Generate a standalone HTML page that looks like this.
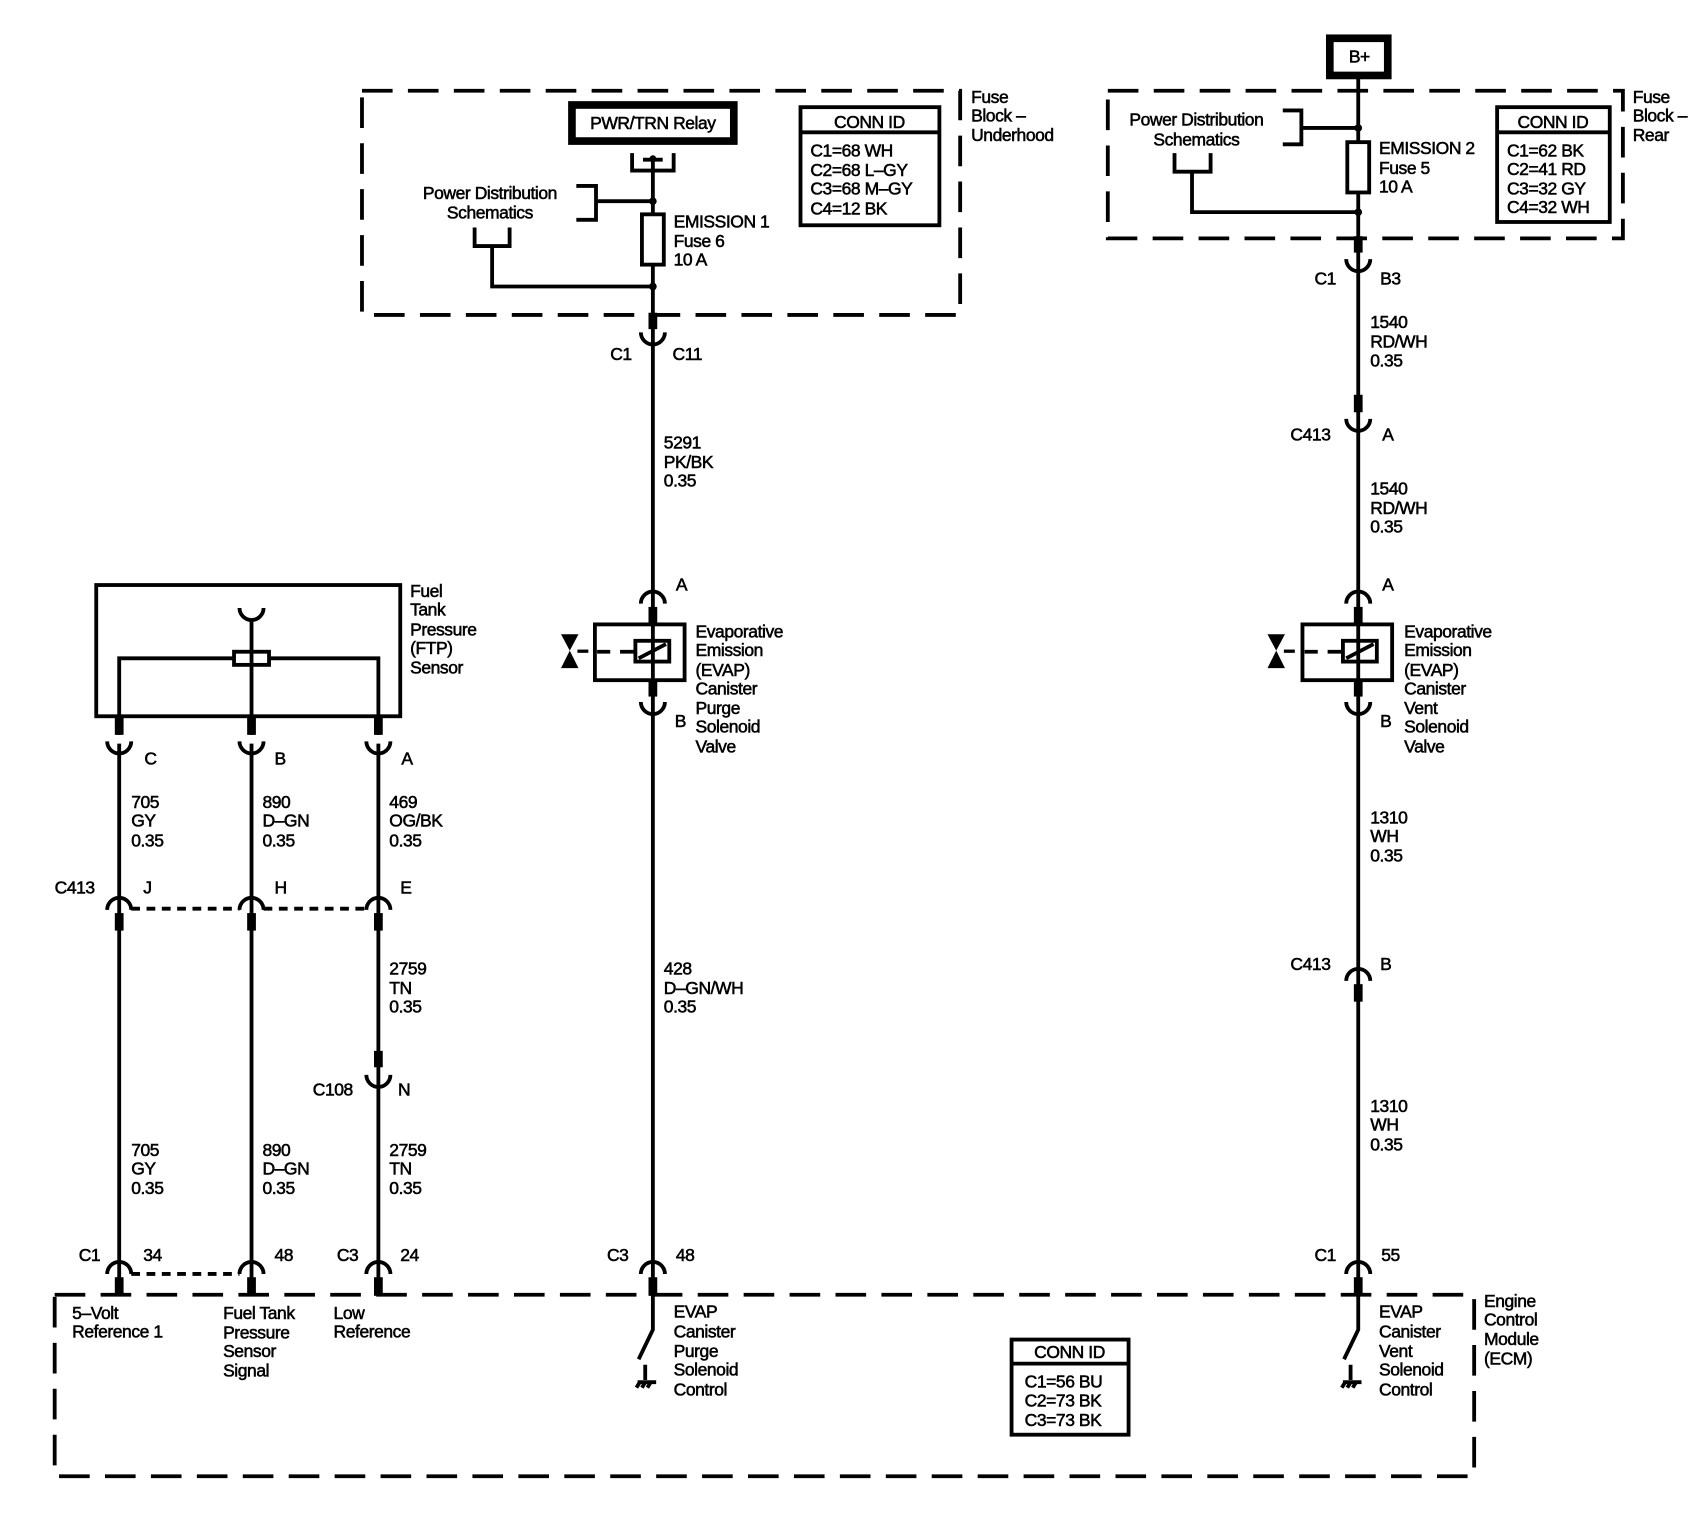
<!DOCTYPE html>
<html><head><meta charset="utf-8"><style>
html,body{margin:0;padding:0;background:#fff;}
svg{display:block;}
text{font-family:"Liberation Sans",sans-serif;font-size:16px;fill:#000;stroke:#000;stroke-width:0.5;letter-spacing:-0.4px;}
</style></head><body>
<svg width="1706" height="1520" viewBox="0 0 1560 1390" preserveAspectRatio="none" xmlns="http://www.w3.org/2000/svg">
<g fill="none" stroke="#000" stroke-width="3.5">
<rect x="331" y="83" width="547" height="205" stroke-dasharray="28,14"/>
<rect x="1013" y="83" width="471" height="135" stroke-dasharray="28,14"/>
<rect x="50" y="1184" width="1298" height="166" stroke-dasharray="28,14"/>
<rect x="523" y="96" width="148" height="33" stroke-width="7"/>
<path d="M578 140 V156 H616 V140 M588 146 H606"/>
<line x1="597" y1="145" x2="597" y2="1184"/>
<rect x="587" y="196" width="20" height="46" fill="#fff"/>
<path d="M527 170 H545 V201 H527 M545 184 H597"/>
<path d="M434 208 V225 H466 V208 M450 225 V262 H597"/>
<rect x="732" y="98" width="127" height="108" stroke-width="3.5"/>
<line x1="732" y1="121" x2="859" y2="121"/>
<rect x="1216" y="35" width="53" height="34" stroke-width="7"/>
<line x1="1242" y1="72" x2="1242" y2="1184"/>
<rect x="1232" y="130" width="20" height="46" fill="#fff"/>
<path d="M1173 101 H1190 V132 H1173 M1190 117 H1242"/>
<path d="M1074 140 V157 H1107 V140 M1090 157 V194 H1242"/>
<rect x="1369" y="98" width="103" height="105"/>
<line x1="1369" y1="121" x2="1472" y2="121"/>
<rect x="88" y="535" width="278" height="120"/>
<path d="M109 672 V602 H214 M246 602 H346 V672"/>
<rect x="214" y="596" width="32" height="12" fill="#fff"/>
<line x1="230" y1="566" x2="230" y2="672"/>
<path d="M219 556 A11 11 0 0 0 241 556"/>
<line x1="109" y1="680" x2="109" y2="1184"/>
<line x1="230" y1="680" x2="230" y2="1184"/>
<line x1="346" y1="680" x2="346" y2="1184"/>
<path d="M120 831 H219 M241 831 H335" stroke-dasharray="8,6"/>
<path d="M120 1165 H219" stroke-dasharray="8,6"/>
<rect x="544" y="571" width="82" height="51"/>
<rect x="581" y="586" width="31" height="19"/>
<path d="M584 602 L609 589"/>
<path d="M546 596 H558 M567 596 H581"/>
<rect x="1191" y="571" width="82" height="51"/>
<rect x="1228" y="586" width="31" height="19"/>
<path d="M1231 602 L1256 589"/>
<path d="M1193 596 H1205 M1214 596 H1228"/>
<rect x="925" y="1225" width="107" height="87"/>
<line x1="925" y1="1247" x2="1032" y2="1247"/>
<path d="M597 1184 V1216 L584 1243 M590 1248 V1262 M583 1264 H600 M585 1264 l-3 5 M590 1264 l-3 5 M595 1264 l-3 5"/>
<path d="M1242 1184 V1216 L1229 1243 M1235 1248 V1262 M1228 1264 H1245 M1230 1264 l-3 5 M1235 1264 l-3 5 M1240 1264 l-3 5"/>
<g stroke-width="3.5">
<path d="M586 304 A11 11 0 0 0 608 304"/>
<path d="M586 642 A11 11 0 0 0 608 642"/>
<path d="M1231 237 A11 11 0 0 0 1253 237"/>
<path d="M1231 383 A11 11 0 0 0 1253 383"/>
<path d="M1231 642 A11 11 0 0 0 1253 642"/>
<path d="M98 678 A11 11 0 0 0 120 678"/>
<path d="M219 678 A11 11 0 0 0 241 678"/>
<path d="M335 678 A11 11 0 0 0 357 678"/>
<path d="M335 983 A11 11 0 0 0 357 983"/>
<path d="M586 552 A11 11 0 0 1 608 552"/>
<path d="M1231 552 A11 11 0 0 1 1253 552"/>
<path d="M1231 897 A11 11 0 0 1 1253 897"/>
<path d="M98 832 A11 11 0 0 1 120 832"/>
<path d="M219 832 A11 11 0 0 1 241 832"/>
<path d="M335 832 A11 11 0 0 1 357 832"/>
<path d="M98 1165 A11 11 0 0 1 120 1165"/>
<path d="M219 1165 A11 11 0 0 1 241 1165"/>
<path d="M335 1165 A11 11 0 0 1 357 1165"/>
<path d="M586 1165 A11 11 0 0 1 608 1165"/>
<path d="M1231 1165 A11 11 0 0 1 1253 1165"/>
</g>
</g>
<g fill="#000">
<rect x="593" y="286" width="8" height="15"/>
<rect x="593" y="555" width="8" height="17"/>
<rect x="593" y="621" width="8" height="16"/>
<rect x="1238" y="216" width="8" height="15"/>
<rect x="1238" y="361" width="8" height="16"/>
<rect x="1238" y="555" width="8" height="17"/>
<rect x="1238" y="621" width="8" height="16"/>
<rect x="1238" y="900" width="8" height="16"/>
<rect x="105" y="655" width="8" height="17"/>
<rect x="226" y="655" width="8" height="17"/>
<rect x="342" y="655" width="8" height="17"/>
<rect x="105" y="835" width="8" height="16"/>
<rect x="226" y="835" width="8" height="16"/>
<rect x="342" y="835" width="8" height="16"/>
<rect x="342" y="961" width="8" height="15"/>
<rect x="105" y="1168" width="8" height="17"/>
<rect x="226" y="1168" width="8" height="17"/>
<rect x="342" y="1168" width="8" height="17"/>
<rect x="593" y="1168" width="8" height="17"/>
<rect x="1238" y="1168" width="8" height="17"/>
<circle cx="597" cy="184" r="3.5"/><circle cx="597" cy="262" r="3.5"/><circle cx="597" cy="145" r="3"/>
<circle cx="1242" cy="117" r="3.5"/><circle cx="1242" cy="194" r="3.5"/>
<path d="M513 580 H529 L521 595 L529 611 H513 L521 595 Z"/>
<path d="M1159 580 H1175 L1167 595 L1175 611 H1159 L1167 595 Z"/>
<rect x="528" y="594" width="10" height="3"/><rect x="1174" y="594" width="10" height="3"/>
</g>
<text x="597" y="118" text-anchor="middle">PWR/TRN Relay</text>
<text x="1243" y="57" text-anchor="middle">B+</text>
<text x="448" y="182" text-anchor="middle">Power Distribution</text>
<text x="448" y="200" text-anchor="middle">Schematics</text>
<text x="1094" y="115" text-anchor="middle">Power Distribution</text>
<text x="1094" y="133" text-anchor="middle">Schematics</text>
<text x="616" y="208">EMISSION 1</text><text x="616" y="226">Fuse 6</text><text x="616" y="243">10 A</text>
<text x="1261" y="141">EMISSION 2</text><text x="1261" y="159">Fuse 5</text><text x="1261" y="176">10 A</text>
<text x="795" y="117" text-anchor="middle">CONN ID</text>
<text x="741" y="143">C1=68 WH</text><text x="741" y="161">C2=68 L–GY</text><text x="741" y="178">C3=68 M–GY</text><text x="741" y="196">C4=12 BK</text>
<text x="1420" y="117" text-anchor="middle">CONN ID</text>
<text x="1378" y="143">C1=62 BK</text><text x="1378" y="160">C2=41 RD</text><text x="1378" y="178">C3=32 GY</text><text x="1378" y="195">C4=32 WH</text>
<text x="888" y="94">Fuse</text><text x="888" y="111">Block –</text><text x="888" y="129">Underhood</text>
<text x="1493" y="94">Fuse</text><text x="1493" y="111">Block –</text><text x="1493" y="129">Rear</text>
<text x="558" y="329">C1</text><text x="615" y="329">C11</text>
<text x="607" y="410">5291</text><text x="607" y="428">PK/BK</text><text x="607" y="445">0.35</text>
<text x="1202" y="260">C1</text><text x="1262" y="260">B3</text>
<text x="1253" y="300">1540</text><text x="1253" y="318">RD/WH</text><text x="1253" y="335">0.35</text>
<text x="1180" y="403">C413</text><text x="1264" y="403">A</text>
<text x="1253" y="452">1540</text><text x="1253" y="470">RD/WH</text><text x="1253" y="487">0.35</text>
<text x="618" y="540">A</text><text x="1264" y="540">A</text>
<text x="617" y="665">B</text><text x="1262" y="665">B</text>
<text x="636" y="583">Evaporative</text><text x="636" y="600">Emission</text><text x="636" y="618">(EVAP)</text><text x="636" y="635">Canister</text><text x="636" y="653">Purge</text><text x="636" y="670">Solenoid</text><text x="636" y="688">Valve</text>
<text x="1284" y="583">Evaporative</text><text x="1284" y="600">Emission</text><text x="1284" y="618">(EVAP)</text><text x="1284" y="635">Canister</text><text x="1284" y="653">Vent</text><text x="1284" y="670">Solenoid</text><text x="1284" y="688">Valve</text>
<text x="375" y="546">Fuel</text><text x="375" y="563">Tank</text><text x="375" y="581">Pressure</text><text x="375" y="598">(FTP)</text><text x="375" y="616">Sensor</text>
<text x="132" y="699">C</text><text x="251" y="699">B</text><text x="367" y="699">A</text>
<text x="120" y="739">705</text><text x="120" y="756">GY</text><text x="120" y="774">0.35</text>
<text x="240" y="739">890</text><text x="240" y="756">D–GN</text><text x="240" y="774">0.35</text>
<text x="356" y="739">469</text><text x="356" y="756">OG/BK</text><text x="356" y="774">0.35</text>
<text x="50" y="817">C413</text><text x="131" y="817">J</text><text x="251" y="817">H</text><text x="366" y="817">E</text>
<text x="356" y="891">2759</text><text x="356" y="909">TN</text><text x="356" y="926">0.35</text>
<text x="607" y="891">428</text><text x="607" y="909">D–GN/WH</text><text x="607" y="926">0.35</text>
<text x="1253" y="753">1310</text><text x="1253" y="770">WH</text><text x="1253" y="788">0.35</text>
<text x="1180" y="887">C413</text><text x="1262" y="887">B</text>
<text x="286" y="1002">C108</text><text x="364" y="1002">N</text>
<text x="1253" y="1017">1310</text><text x="1253" y="1034">WH</text><text x="1253" y="1052">0.35</text>
<text x="120" y="1057">705</text><text x="120" y="1074">GY</text><text x="120" y="1092">0.35</text>
<text x="240" y="1057">890</text><text x="240" y="1074">D–GN</text><text x="240" y="1092">0.35</text>
<text x="356" y="1057">2759</text><text x="356" y="1074">TN</text><text x="356" y="1092">0.35</text>
<text x="72" y="1153">C1</text><text x="131" y="1153">34</text><text x="251" y="1153">48</text><text x="308" y="1153">C3</text><text x="366" y="1153">24</text>
<text x="555" y="1153">C3</text><text x="618" y="1153">48</text>
<text x="1202" y="1153">C1</text><text x="1263" y="1153">55</text>
<text x="66" y="1206">5–Volt</text><text x="66" y="1223">Reference 1</text>
<text x="204" y="1206">Fuel Tank</text><text x="204" y="1224">Pressure</text><text x="204" y="1241">Sensor</text><text x="204" y="1259">Signal</text>
<text x="305" y="1206">Low</text><text x="305" y="1223">Reference</text>
<text x="616" y="1205">EVAP</text><text x="616" y="1223">Canister</text><text x="616" y="1241">Purge</text><text x="616" y="1258">Solenoid</text><text x="616" y="1276">Control</text>
<text x="1261" y="1205">EVAP</text><text x="1261" y="1223">Canister</text><text x="1261" y="1241">Vent</text><text x="1261" y="1258">Solenoid</text><text x="1261" y="1276">Control</text>
<text x="1357" y="1195">Engine</text><text x="1357" y="1212">Control</text><text x="1357" y="1230">Module</text><text x="1357" y="1248">(ECM)</text>
<text x="978" y="1242" text-anchor="middle">CONN ID</text>
<text x="937" y="1269">C1=56 BU</text><text x="937" y="1286">C2=73 BK</text><text x="937" y="1304">C3=73 BK</text>
</svg>
</body></html>
